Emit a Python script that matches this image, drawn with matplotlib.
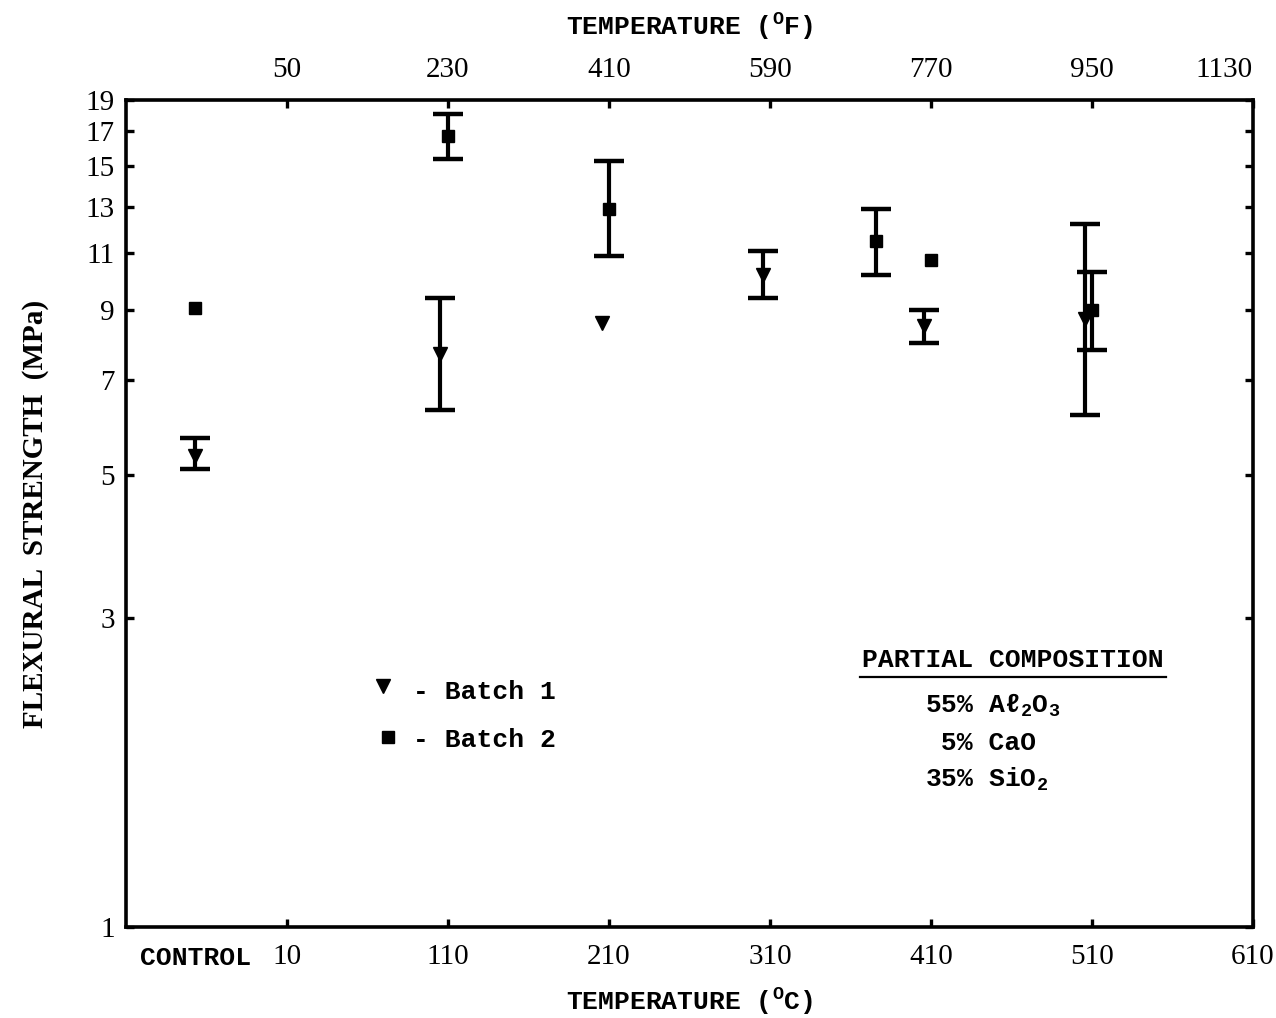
import numpy as np
import matplotlib.pyplot as plt

plt.rcParams['font.family'] = ['Liberation Mono', 'DejaVu Sans Mono']
plt.rcParams['font.weight'] = 'bold'
plt.rcParams['axes.labelweight'] = 'bold'
plt.rcParams['mathtext.fontset'] = 'custom'
plt.rcParams['mathtext.rm'] = 'Liberation Mono:bold'
plt.rcParams['mathtext.it'] = 'Liberation Mono:bold'
plt.rcParams['mathtext.default'] = 'regular'

# batch 1 (triangles): test temperature (C), mean strength and scatter band (MPa)
b1_temp = np.array([-47, 105, 206, 306, 406, 506])
b1_mean = np.array([5.35, 7.7, 8.6, 10.2, 8.5, 8.7])
b1_low = np.array([5.1, 6.3, np.nan, 9.4, 8.0, 6.2])
b1_high = np.array([5.7, 9.4, np.nan, 11.1, 9.0, 12.2])

# batch 2 (squares)
b2_temp = np.array([-47, 110, 210, 376, 410, 510])
b2_mean = np.array([9.05, 16.7, 12.9, 11.5, 10.75, 9.0])
b2_low = np.array([np.nan, 15.4, 10.9, 10.2, np.nan, 7.8])
b2_high = np.array([np.nan, 18.1, 15.3, 12.9, np.nan, 10.3])

control_temp = -47
c_ticks = [10, 110, 210, 310, 410, 510, 610]
f_ticks = [50, 230, 410, 590, 770, 950, 1130]
y_ticks = [1, 3, 5, 7, 9, 11, 13, 15, 17, 19]

composition = [r'55% A$\ell_2$O$_3$', r' 5% CaO', r'35% SiO$_2$']


def c_to_f(c):
    return c * 9 / 5 + 32


def f_to_c(f):
    return (f - 32) * 5 / 9


fig = plt.figure(figsize=(12.76, 10.18), dpi=100)
ax = fig.add_axes([0.0987, 0.0894, 0.8832, 0.8124])

def draw_batch(temp, mean, low, high, marker, ms):
    ok = ~np.isnan(low)
    ax.errorbar(temp[ok], mean[ok], yerr=[mean[ok] - low[ok], high[ok] - mean[ok]],
                fmt='none', ecolor='black', elinewidth=3, capsize=11, capthick=3.2)
    ax.plot(temp, mean, linestyle='none', marker=marker, ms=ms, color='black')

draw_batch(b1_temp, b1_mean, b1_low, b1_high, 'v', 10.5)
draw_batch(b2_temp, b2_mean, b2_low, b2_high, 's', 8.5)

ax.set_yscale('log')
ax.set_xlim(-90, 610)
ax.set_ylim(1, 19)
ax.set_yticks(y_ticks)
ax.set_yticklabels([str(v) for v in y_ticks])
ax.yaxis.set_minor_locator(plt.NullLocator())
ax.set_xticks(c_ticks)
ax.set_xticklabels([str(v) for v in c_ticks])

for s in ax.spines.values():
    s.set_linewidth(2.6)

ax.tick_params(axis='y', direction='in', length=6, width=2.4, right=True,
               pad=8, labelsize=21, labelfontfamily='Liberation Serif')
ax.tick_params(axis='x', direction='in', length=6, width=2.4,
               pad=12, labelsize=21, labelfontfamily='Liberation Serif')
for lab in ax.get_xticklabels() + ax.get_yticklabels():
    lab.set_fontweight('normal')

ax.text(control_temp, -0.023, 'CONTROL', transform=ax.get_xaxis_transform(),
        ha='center', va='top', fontsize=19)

top = ax.secondary_xaxis('top', functions=(c_to_f, f_to_c))
top.set_xticks(f_ticks)
top.set_xticklabels([str(v) for v in f_ticks])
top.tick_params(direction='in', length=6, width=2.4, pad=12, labelsize=21,
                labelfontfamily='Liberation Serif')
for lab in top.get_xticklabels():
    lab.set_fontweight('normal')
top.get_xticklabels()[-1].set_horizontalalignment('right')
top.set_xlabel(r'TEMPERATURE ($^{O}$F)', fontsize=19, labelpad=16)

ax.set_xlabel(r'TEMPERATURE ($^{O}$C)', fontsize=19, labelpad=12)
ax.set_ylabel('FLEXURAL  STRENGTH  (MPa)', fontsize=21, labelpad=26,
              family='Liberation Serif', fontweight='bold')

# legend
ax.plot([0.228], [0.291], marker='v', ms=10.5, color='black', transform=ax.transAxes)
ax.text(0.255, 0.284, '- Batch 1', transform=ax.transAxes, va='center', fontsize=19)
ax.plot([0.2325], [0.230], marker='s', ms=8.5, color='black', transform=ax.transAxes)
ax.text(0.255, 0.226, '- Batch 2', transform=ax.transAxes, va='center', fontsize=19)

# composition note
ax.text(0.787, 0.323, 'PARTIAL COMPOSITION', transform=ax.transAxes,
        ha='center', va='center', fontsize=19)
ax.plot([0.651, 0.923], [0.302, 0.302], color='black', lw=1.6, transform=ax.transAxes)
for i, line in enumerate(composition):
    ax.text(0.709, 0.268 - i * 0.045, line, transform=ax.transAxes,
            va='center', fontsize=19)

fig.savefig('out.png', dpi=100)
